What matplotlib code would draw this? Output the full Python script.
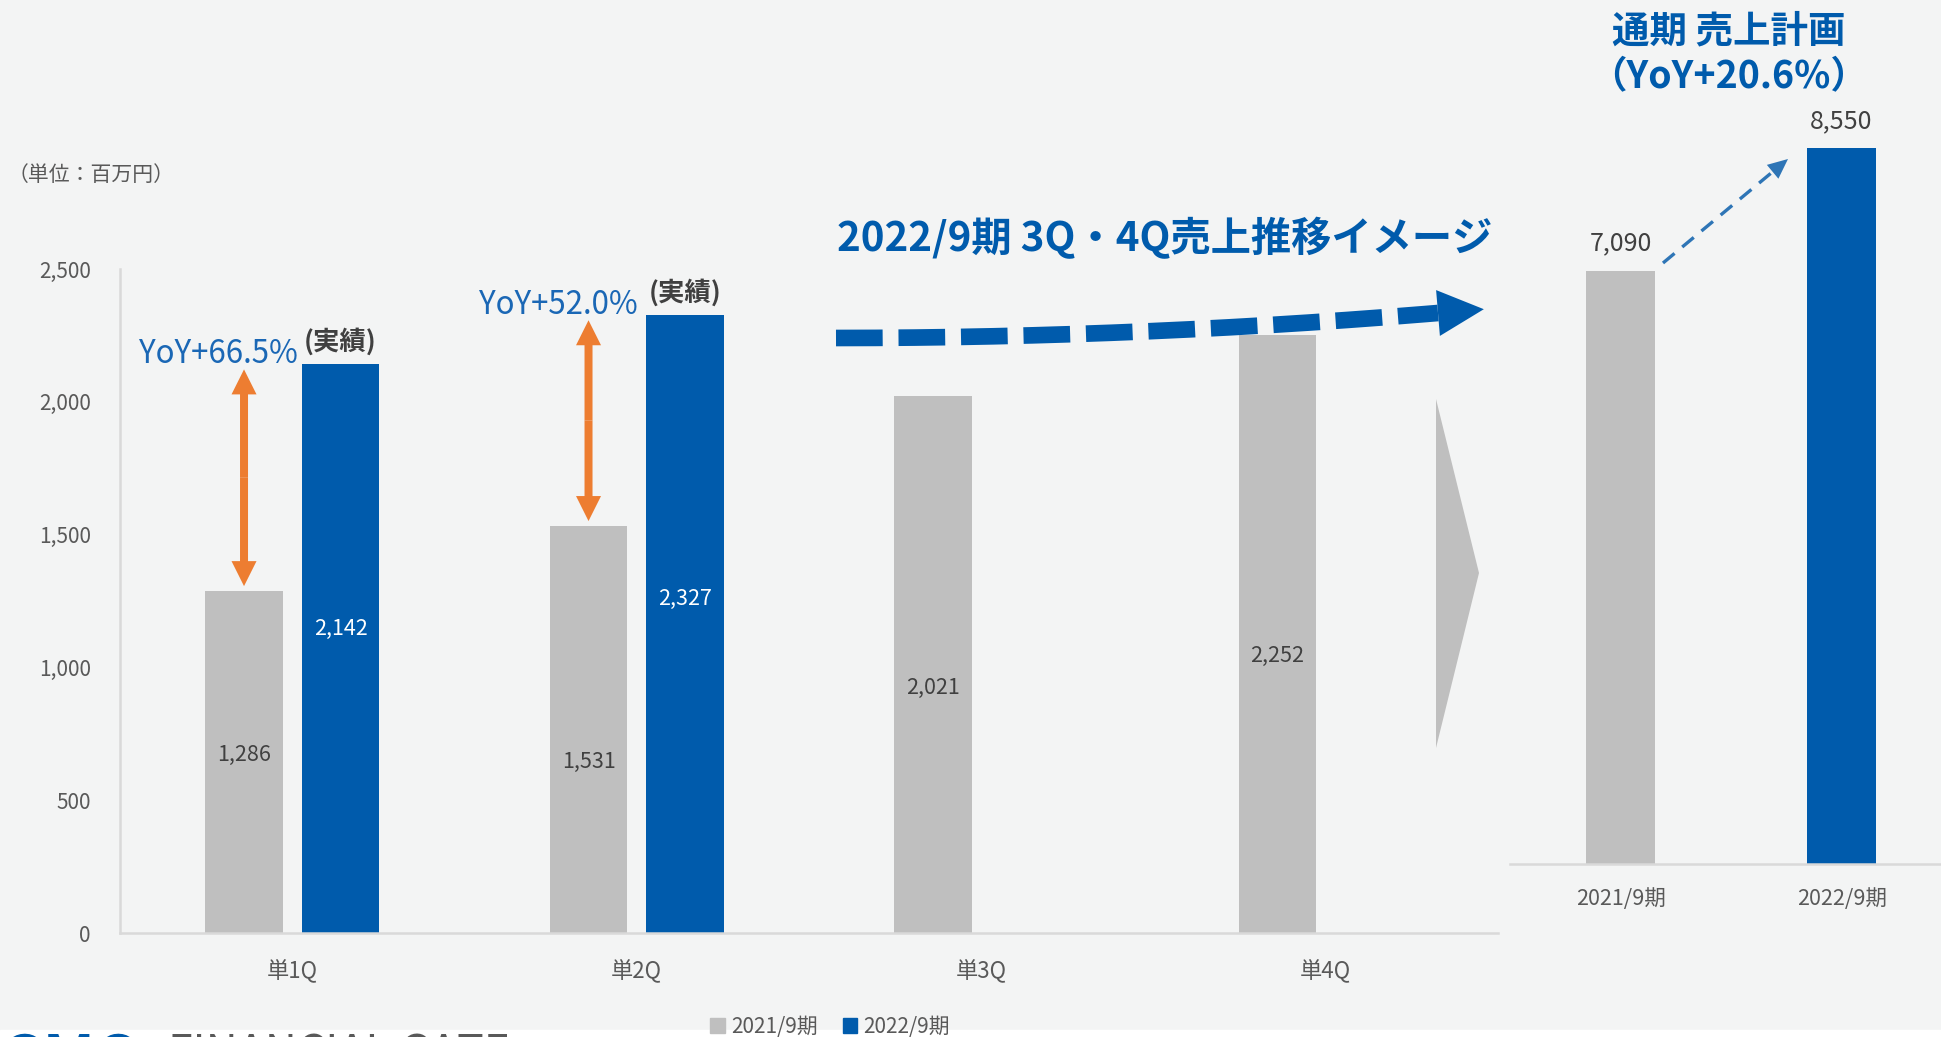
import matplotlib.pyplot as plt
from matplotlib.patches import FancyArrowPatch, Polygon, Rectangle, Patch
import numpy as np

plt.rcParams['font.family'] = ['Noto Sans CJK JP', 'DejaVu Sans']

# data
quarters = ['単1Q', '単2Q', '単3Q', '単4Q']
sales_2021 = [1286, 1531, 2021, 2252]
sales_2022 = [2142, 2327]
yoy_labels = ['YoY+66.5%', 'YoY+52.0%']
years = ['2021/9期', '2022/9期']
annual = [7090, 8550]

# where the value labels sit inside the bars (fraction of bar height)
lab_2021 = [0.52, 0.42, 0.456, 0.463]
lab_2022 = [0.535, 0.54]

GRAY = '#bfbfbf'
BLUE = '#005bac'
TXT = '#404040'
TICK = '#595959'
BG = '#f3f4f4'
W, H = 1941, 1037

fig = plt.figure(figsize=(W / 100, H / 100), dpi=100, facecolor=BG)

# left: quarterly bars
ax = fig.add_axes([120 / W, 1 - 933 / H, 1378 / W, (933 - 269) / H])
ax.set_facecolor('none')
x = np.arange(len(quarters))
off, bw = 0.14, 0.226
ax.bar(x - off, sales_2021, width=bw, color=GRAY, zorder=2)
ax.bar(x[:len(sales_2022)] + off, sales_2022, width=bw, color=BLUE, zorder=2)
ax.set_xlim(-0.5, 3.5)
ax.set_ylim(0, 2500)
ax.set_yticks(range(0, 2501, 500))
ax.set_yticklabels([f'{v:,}' for v in range(0, 2501, 500)])
ax.set_xticks(x)
ax.set_xticklabels(quarters)
ax.tick_params(axis='y', length=0, pad=21, labelsize=15, labelcolor=TICK)
ax.tick_params(axis='x', length=0, pad=19, labelsize=16, labelcolor=TICK)
for s in ['top', 'right']:
    ax.spines[s].set_visible(False)
for s in ['left', 'bottom']:
    ax.spines[s].set_color('#d9d9d9')
    ax.spines[s].set_linewidth(1.8)

for i, v in enumerate(sales_2021):
    ax.text(i - off, v * lab_2021[i], f'{v:,}', ha='center', va='center', fontsize=15.5, color=TXT, zorder=3)
for i, v in enumerate(sales_2022):
    ax.text(i + off, v * lab_2022[i], f'{v:,}', ha='center', va='center', fontsize=15.5, color='white', zorder=3)
    ax.annotate('(実績)', (i + off, v), xytext=(0, 6), textcoords='offset points',
                ha='center', va='bottom', fontsize=19, fontweight='bold', color=TXT,
                annotation_clip=False)
    ax.annotate(yoy_labels[i], (i + off - bw / 2, v), xytext=(-3 - 3 * i, 7), textcoords='offset points',
                ha='right', va='center', fontsize=22.5, color='#1a67b5',
                annotation_clip=False)
    # orange double arrow prev -> current
    lo, hi = sales_2021[i] + 20, v - 20
    mid = (lo + hi) / 2
    for end in (lo, hi):
        ax.add_patch(FancyArrowPatch((i - off, mid), (i - off, end),
                                     arrowstyle='simple,head_length=1,head_width=1,tail_width=0.32',
                                     mutation_scale=18, color='#ed7d31', lw=0,
                                     shrinkA=0, shrinkB=0, zorder=4, clip_on=False))

# right: annual bars
ax2 = fig.add_axes([1510 / W, 1 - 864 / H, 431 / W, 837 / H])
ax2.set_facecolor('none')
ax2.bar([0, 1], annual, width=0.31, color=[GRAY, BLUE], zorder=2)
ax2.set_xlim(-0.5, 1.45)
ax2.set_ylim(0, 10000)
ax2.set_xticks([0, 1])
ax2.set_xticklabels(years)
ax2.set_yticks([])
ax2.tick_params(axis='x', length=0, pad=17, labelsize=15.5, labelcolor=TICK)
for s in ['top', 'right', 'left']:
    ax2.spines[s].set_visible(False)
ax2.spines['bottom'].set_color('#d9d9d9')
ax2.spines['bottom'].set_linewidth(1.8)
for i, v in enumerate(annual):
    ax2.annotate(f'{v:,}', (i, v), xytext=(0, 10), textcoords='offset points',
                 ha='center', va='bottom', fontsize=18, color=TXT)

# overlay in pixel coordinates for decorations
ov = fig.add_axes([0, 0, 1, 1])
ov.set_xlim(0, W)
ov.set_ylim(H, 0)
ov.axis('off')
ov.set_facecolor('none')

ov.add_patch(Rectangle((0, 1030), W, 7, color='white', zorder=1))
ov.text(0, 1031, 'GMO', va='top', ha='left', fontsize=44, fontweight='bold', color=BLUE, zorder=2)
ov.text(168, 1032, 'FINANCIAL GATE', va='top', ha='left', fontsize=32, color=TICK, zorder=2)

ov.text(8, 175, '（単位：百万円）', ha='left', va='center', fontsize=15, color=TICK)
ov.text(1492, 239, '2022/9期 3Q・4Q売上推移イメージ', ha='right', va='center',
        fontsize=29, fontweight='bold', color=BLUE)
ov.text(1729, 31, '通期 売上計画', ha='center', va='center', fontsize=27, fontweight='bold', color=BLUE)
ov.text(1729, 77, '（YoY+20.6%）', ha='center', va='center', fontsize=27, fontweight='bold', color=BLUE)

# big dashed trend arrow
xs = np.linspace(836, 1438, 200)
ys = 338 - 25 * ((xs - 836) / 602) ** 2
ov.plot(xs, ys, color=BLUE, lw=12, ls=(0, (2.8, 0.95)), solid_capstyle='butt', dash_capstyle='butt')
ang = np.arctan2(ys[-1] - ys[-2], xs[-1] - xs[-2])
ux, uy = np.cos(ang), np.sin(ang)
hl, hw = 46, 23
bx, by = xs[-1], ys[-1]
ov.add_patch(Polygon([(bx + hl * ux, by + hl * uy), (bx - hw * uy, by + hw * ux), (bx + hw * uy, by - hw * ux)],
                     closed=True, color=BLUE, lw=0))

# gray chevron
ov.add_patch(Polygon([(1436, 399), (1479, 573), (1436, 748)], closed=True, color=GRAY, lw=0))

# small dashed arrow in annual panel
sx, sy, tx, ty = 1663, 263, 1788, 159
d = np.hypot(tx - sx, ty - sy)
ux, uy = (tx - sx) / d, (ty - sy) / d
hl, hw = 20, 9
bx, by = tx - hl * ux, ty - hl * uy
ov.plot([sx, bx], [sy, by], color='#2e75b6', lw=2.4, ls=(0, (4.5, 3)))
ov.add_patch(Polygon([(tx, ty), (bx - hw * uy, by + hw * ux), (bx + hw * uy, by - hw * ux)],
                     closed=True, color='#2e75b6', lw=0))

# legend
handles = [Patch(color=GRAY), Patch(color=BLUE)]
fig.legend(handles, years, loc='center', bbox_to_anchor=(830 / W, 1 - 1027 / H), ncol=2,
           frameon=False, fontsize=15, handlelength=0.7, handleheight=0.7, handletextpad=0.3,
           columnspacing=1.2, labelcolor=TICK)

fig.savefig('out.png', dpi=100, facecolor=BG)
